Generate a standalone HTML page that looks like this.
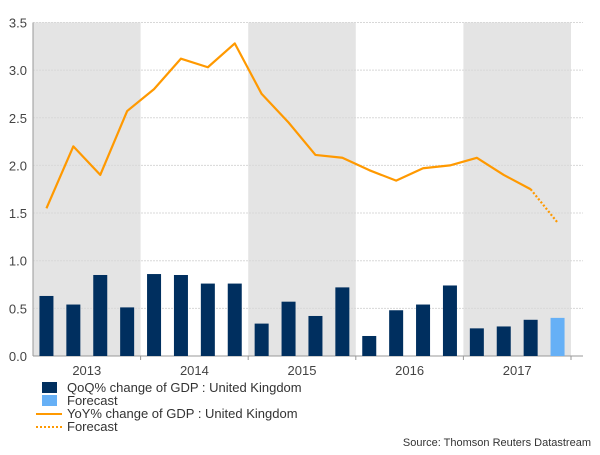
<!DOCTYPE html>
<html><head><meta charset="utf-8"><style>
body{margin:0;background:#fff;font-family:"Liberation Sans",sans-serif}
svg text{font-family:"Liberation Sans",sans-serif}
</style></head><body>
<svg id="c" width="600" height="450"></svg>
<script>
const quarters=["2013Q1","2013Q2","2013Q3","2013Q4","2014Q1","2014Q2","2014Q3","2014Q4","2015Q1","2015Q2","2015Q3","2015Q4","2016Q1","2016Q2","2016Q3","2016Q4","2017Q1","2017Q2","2017Q3","2017Q4"];
const years=["2013","2014","2015","2016","2017"];
const qoq=[0.63,0.54,0.85,0.51,0.86,0.85,0.76,0.76,0.34,0.57,0.42,0.72,0.21,0.48,0.54,0.74,0.29,0.31,0.38];
const qoqForecast=[0.40];
const yoy=[1.55,2.2,1.9,2.57,2.8,3.12,3.03,3.28,2.75,2.45,2.11,2.08,1.95,1.84,1.97,2.0,2.08,1.9,1.75];
const yoyForecast=[1.4];
const yTicks=[0,0.5,1.0,1.5,2.0,2.5,3.0,3.5];
const NS="http://www.w3.org/2000/svg",svg=document.getElementById('c');
const X0=33,QW=26.9,Y0=356,YS=95.3;
const xq=i=>X0+QW*(i+0.5), yv=v=>Y0-v*YS;
function mk(t,a,p){const e=document.createElementNS(NS,t);for(const k in a)e.setAttribute(k,a[k]);(p||svg).appendChild(e);return e;}
years.forEach((y,i)=>{if(i%2==0){const r=mk('rect',{x:X0+i*4*QW,y:yv(3.5),width:4*QW,height:3.5*YS,fill:'#e4e4e4'});

}});
yTicks.forEach(t=>{const l=mk('line',{x1:X0,x2:583,y1:yv(t),y2:yv(t),stroke:'#d8d8d8','stroke-dasharray':'2,1'});


const tx=mk('text',{x:27,y:yv(t)+5,'text-anchor':'end','font-size':13,fill:'#444'});tx.textContent=t.toFixed(1);

});
mk('line',{x1:X0,x2:X0,y1:yv(3.5),y2:Y0,stroke:'#999'});
const xa=mk('line',{x1:X0,x2:583,y1:Y0,y2:Y0,stroke:'#999'});


years.forEach((y,i)=>{mk('line',{x1:X0+(i+1)*4*QW,x2:X0+(i+1)*4*QW,y1:Y0,y2:Y0+4,stroke:'#999'});
const t=mk('text',{x:X0+(i+0.5)*4*QW,y:375,'text-anchor':'middle','font-size':13,fill:'#444'});t.textContent=y;

});
qoq.forEach((v,i)=>{const b=mk('rect',{x:xq(i)-7,y:yv(v),width:14,height:v*YS,fill:'#002f5f'});

});
qoqForecast.forEach((v,j)=>{const i=qoq.length+j;const b=mk('rect',{x:xq(i)-7,y:yv(v),width:14,height:v*YS,fill:'#66b0f6'});

});
const ln=mk('polyline',{points:yoy.map((v,i)=>xq(i)+','+yv(v)).join(' '),fill:'none',stroke:'#ff9900','stroke-width':2.2,'stroke-linejoin':'round'});


const fpts=[[yoy.length-1,yoy[yoy.length-1]]].concat(yoyForecast.map((v,j)=>[yoy.length+j,v]));
const fl=mk('polyline',{points:fpts.map(p=>xq(p[0])+','+yv(p[1])).join(' '),fill:'none',stroke:'#ff9900','stroke-width':2.2,'stroke-dasharray':'2,2'});


</script>
<div style="position:absolute;left:0;top:0;width:600px;height:450px;pointer-events:none;font-size:13px;color:#333">
<div>
<div style="position:absolute;left:42px;top:381px;line-height:13px"><span style="position:absolute;left:0;top:1px;width:15px;height:11px;background:#002f5f"></span><span style="position:absolute;left:25px;white-space:nowrap">QoQ% change of GDP : United Kingdom</span></div>
<div style="position:absolute;left:42px;top:394px;line-height:13px"><span style="position:absolute;left:0;top:1px;width:15px;height:11px;background:#66b0f6"></span><span style="position:absolute;left:25px;white-space:nowrap">Forecast</span></div>
<div style="position:absolute;left:36px;top:407px;line-height:13px"><span style="position:absolute;left:0;top:6px;width:26px;height:2px;background:#ff9900"></span><span style="position:absolute;left:31px;white-space:nowrap">YoY% change of GDP : United Kingdom</span></div>
<div style="position:absolute;left:36px;top:420px;line-height:13px"><span style="position:absolute;left:0;top:6px;width:26px;height:0;border-top:2px dotted #ff9900"></span><span style="position:absolute;left:31px;white-space:nowrap">Forecast</span></div>
</div>
<div style="position:absolute;right:9px;top:437px;font-size:11px;color:#333">Source: Thomson Reuters Datastream</div>
</div>
</body></html>
